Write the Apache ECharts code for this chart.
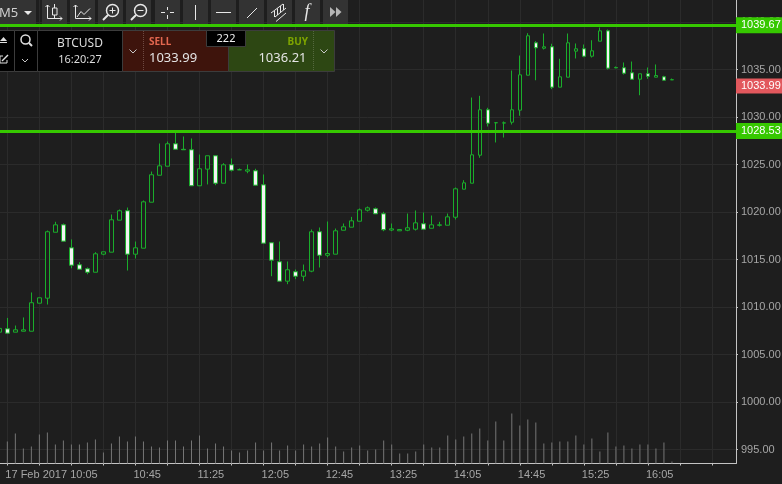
<!DOCTYPE html>
<html>
<head>
<meta charset="utf-8">
<title>BTCUSD M5</title>
<script src="https://cdn.jsdelivr.net/npm/echarts@6/dist/echarts.min.js"></script>
<style>
  html, body { margin: 0; padding: 0; background: #1e1e1e; }
  #chart { width: 782px; height: 484px; }
</style>
</head>
<body>
<div id="chart"></div>
<script>
// open, close, low, high - first candle sits half off the left edge
const candles = [
  [1007.35, 1007.75, 1007.35, 1007.75],
  [1007.7, 1007.25, 1007.25, 1008.85],
  [1007.35, 1007.6, 1007.35, 1008.05],
  [1007.45, 1007.6, 1007.45, 1008.9],
  [1007.45, 1010.45, 1007.45, 1011.53],
  [1010.4, 1010.97, 1010.4, 1010.97],
  [1010.93, 1017.92, 1010.26, 1018.05],
  [1017.87, 1018.65, 1017.87, 1018.97],
  [1018.65, 1016.93, 1016.93, 1018.79],
  [1016.23, 1014.4, 1014.08, 1017.11],
  [1014.44, 1013.98, 1013.98, 1014.72],
  [1014.02, 1013.66, 1013.45, 1014.16],
  [1013.66, 1015.6, 1013.66, 1015.77],
  [1015.56, 1015.81, 1015.45, 1015.81],
  [1015.77, 1019.18, 1015.77, 1019.74],
  [1019.14, 1020.13, 1019.14, 1020.26],
  [1020.13, 1015.56, 1013.84, 1020.47],
  [1015.56, 1016.23, 1015.11, 1016.89],
  [1016.19, 1021.07, 1016.19, 1021.21],
  [1021.03, 1023.92, 1021.03, 1024.26],
  [1023.87, 1024.86, 1023.87, 1027.21],
  [1024.82, 1027.18, 1024.82, 1027.42],
  [1027.18, 1026.61, 1026.61, 1028.4],
  [1026.6, 1026.55, 1026.55, 1027.95],
  [1026.55, 1022.76, 1022.76, 1027.74],
  [1022.76, 1024.55, 1022.76, 1026.05],
  [1024.51, 1025.92, 1022.9, 1025.92],
  [1025.92, 1023.03, 1022.82, 1025.92],
  [1023.03, 1024.97, 1023.03, 1025.14],
  [1024.97, 1024.4, 1024.26, 1025.63],
  [1024.45, 1024.44, 1024.44, 1024.58],
  [1024.3, 1024.44, 1024.08, 1025],
  [1024.34, 1022.82, 1022.82, 1024.55],
  [1022.86, 1016.72, 1016.72, 1023.95],
  [1016.76, 1014.93, 1013.24, 1016.76],
  [1014.76, 1012.72, 1012.72, 1016.89],
  [1012.72, 1013.92, 1012.4, 1014.79],
  [1013.71, 1013.24, 1012.93, 1013.95],
  [1013.24, 1013.81, 1012.72, 1014.47],
  [1013.77, 1017.92, 1013.66, 1018.16],
  [1017.92, 1015.45, 1014.16, 1018.37],
  [1015.45, 1015.63, 1015.24, 1019],
  [1015.56, 1018.02, 1015.56, 1018.26],
  [1018.08, 1018.44, 1018.08, 1018.79],
  [1018.4, 1019.07, 1018.4, 1019.49],
  [1019.03, 1020.23, 1019.03, 1020.37],
  [1020.19, 1020.44, 1020.05, 1020.58],
  [1020.34, 1019.81, 1019.81, 1020.47],
  [1019.81, 1018.13, 1017.98, 1020.02],
  [1018.1, 1018.23, 1017.98, 1018.79],
  [1018.02, 1018.16, 1018.02, 1018.2],
  [1018.08, 1018.34, 1017.98, 1019.84],
  [1018.19, 1018.86, 1018.05, 1020.16],
  [1018.76, 1018.19, 1018.19, 1019.95],
  [1018.29, 1018.65, 1018.29, 1019.63],
  [1018.6, 1018.65, 1018.47, 1018.97],
  [1018.61, 1019.49, 1018.61, 1019.84],
  [1019.45, 1022.44, 1019.21, 1022.58],
  [1022.4, 1023.07, 1022.4, 1023.35],
  [1023.03, 1026.02, 1023.03, 1032.05],
  [1025.98, 1030.76, 1025.71, 1032.23],
  [1030.76, 1029.35, 1029, 1030.97],
  [1029.4, 1029.39, 1027.32, 1029.45],
  [1029.36, 1029.39, 1027.84, 1029.53],
  [1029.45, 1030.76, 1029.21, 1034.89],
  [1030.72, 1034.44, 1030.13, 1036.47],
  [1034.4, 1038.55, 1034.4, 1038.82],
  [1037.81, 1037.28, 1033.87, 1037.98],
  [1037.24, 1037.39, 1037.11, 1038.79],
  [1037.39, 1033.14, 1032.93, 1037.71],
  [1033.14, 1034.23, 1033.14, 1036.13],
  [1034.19, 1037.81, 1034.19, 1038.79],
  [1036.93, 1037.18, 1036.16, 1037.74],
  [1037.18, 1036.4, 1036.29, 1037.63],
  [1036.4, 1036.97, 1036.26, 1038.08],
  [1037.98, 1039.07, 1037.98, 1039.42],
  [1039.07, 1035.14, 1035, 1039.21],
  [1035.2, 1035.18, 1035.13, 1035.32],
  [1035.18, 1034.61, 1034.47, 1035.74],
  [1034.65, 1033.98, 1033.98, 1035.84],
  [1033.98, 1034.55, 1032.29, 1034.55],
  [1034.55, 1034.29, 1034.02, 1035.21],
  [1034.19, 1034.37, 1034.19, 1035.53],
  [1034.23, 1033.87, 1033.87, 1034.34],
  [1033.91, 1033.93, 1033.89, 1034.05],
];
const volumes = ['-',
  22, 30, 15, 17, 29, 31, 19, 23, 19, 19, 21, 24, 11, 20, 27, 22, 27, 22, 17, 16,
  23, 23, 17, 23, 28, 15, 20, 17, 13, 11, 13, 21, 13, 21, 13, 18, 13, 19, 17, 20,
  26, 17, 12, 16, 18, 13, 14, 23, 19, 10, 10, 12, 19, 16, 16, 28, 24, 27, 30, 35,
  23, 42, 23, 50, 38, 44, 41, 20, 21, 22, 22, 28, 19, 25, 12, 31, 17, 18, 15, 19,
  19, 15, 21, 2,
];
const tickLabels = ['17 Feb 2017 10:05', '10:45', '11:25', '12:05', '12:45', '13:25', '14:05', '14:45', '15:25', '16:05'];
const tickSlots = [1, 17, 25, 33, 41, 49, 57, 65, 73, 81];
const categories = Array.from({ length: 93 }, (_, k) => String(k));
const levels = [1039.67, 1028.53];
const lastPrice = 1033.99;
const sellPrice = '1033.99';
const buyPrice = '1036.21';
const spread = '222';

const axisFont = '"Liberation Sans", Arial, sans-serif';
const panelFont = '"Noto Sans", sans-serif';
const green = '#36c800';
const candleGreen = '#1aad2b';
const gridColor = '#2b2b2b';
const axisColor = '#c4c4c4';

// helpers for the toolbar and quote panel
function box(x, y, w, h, fill, stroke) {
  return { type: 'rect', z: 100, shape: { x, y, width: w, height: h }, style: { fill, stroke: stroke || null, lineWidth: 1 } };
}
function txt(x, y, text, size, fill, align, extra) {
  return {
    type: 'text', z: 101,
    style: { x, y, text, fill, font: (extra || '') + ' ' + size + 'px ' + panelFont, textAlign: align || 'left', textVerticalAlign: 'middle' },
  };
}
function seg(points, color, width, dash) {
  return { type: 'polyline', z: 101, shape: { points }, style: { stroke: color || '#e8e8e8', fill: null, lineWidth: width || 1, lineDash: dash } };
}
function tri(points, color) {
  return { type: 'polygon', z: 101, shape: { points }, style: { fill: color || '#e8e8e8' } };
}
function ring(cx, cy, r, color, width) {
  return { type: 'circle', z: 101, shape: { cx, cy, r }, style: { stroke: color || '#e8e8e8', fill: null, lineWidth: width || 1.5 } };
}

function toolbar() {
  const els = [box(-1, -1, 37, 25, '#333333')];
  [42, 70, 98, 126, 155, 183, 211, 239, 267, 295, 323].forEach((x) => {
    els.push(box(x, -1, 25, 25, '#333333'));
  });
  els.push(
    { type: 'text', z: 101, style: { x: -1, y: 13, text: 'M5', fill: '#cfcfcf', font: '13px ' + panelFont, textVerticalAlign: 'middle' } },
    tri([[24, 11], [32, 11], [28, 15]], '#e8e8e8'),
    // candle chart
    seg([[47.5, 5], [47.5, 18.5], [62, 18.5]]),
    seg([[45.5, 7], [47.5, 5], [49.5, 7]]),
    seg([[60, 16.5], [62, 18.5], [60, 20.5]]),
    seg([[54.5, 4], [54.5, 8]]),
    seg([[54.5, 15], [54.5, 18]]),
    box(52.5, 8, 4.5, 7, null, '#e8e8e8'),
    // line chart
    seg([[75.5, 5], [75.5, 18.5], [91, 18.5]]),
    seg([[73.5, 7], [75.5, 5], [77.5, 7]]),
    seg([[89, 16.5], [91, 18.5], [89, 20.5]]),
    seg([[77, 17], [81, 11.5], [84, 14.5], [90, 8.5]]),
    // zoom in
    ring(112.5, 10.5, 6),
    seg([[108, 15], [103, 20]], '#e8e8e8', 2),
    seg([[109.5, 10.5], [115.5, 10.5]]),
    seg([[112.5, 7.5], [112.5, 13.5]]),
    // zoom out
    ring(140.5, 10.5, 6),
    seg([[136, 15], [131, 20]], '#e8e8e8', 2),
    seg([[137.5, 10.5], [143.5, 10.5]]),
    // crosshair
    seg([[161, 12.5], [165, 12.5]]),
    seg([[170, 12.5], [174, 12.5]]),
    seg([[167.5, 7], [167.5, 10]]),
    seg([[167.5, 15], [167.5, 19]]),
    // vertical, horizontal and trend line
    seg([[195.5, 5], [195.5, 20]]),
    seg([[216, 12.5], [231, 12.5]]),
    seg([[247, 18], [257, 8]]),
    // channel
    seg([[271, 13], [283, 4]]),
    seg([[275, 17], [286, 8]]),
    seg([[276, 21.5], [286, 13]]),
    seg([[274.5, 11], [274.5, 17]]),
    seg([[277.5, 8.5], [277.5, 15]]),
    seg([[280.5, 6], [280.5, 12.5]]),
    seg([[283.5, 4], [283.5, 10]]),
    { type: 'text', z: 101, style: { x: 307, y: 12, text: 'f', fill: '#e8e8e8', font: 'italic 18px "Liberation Serif", serif', textAlign: 'center', textVerticalAlign: 'middle' } },
    tri([[330, 7], [335.5, 12], [330, 17]], '#b5b5b5'),
    tri([[336, 7], [341.5, 12], [336, 17]], '#b5b5b5')
  );
  return els;
}

function quotePanel() {
  const border = '#3c3c3c';
  return [
    box(-1, 30.5, 15.5, 41, '#000000', border),
    box(14.5, 30.5, 23, 41, '#000000', border),
    box(37.5, 30.5, 85, 41, '#000000', border),
    box(122.5, 30.5, 106, 41, '#3e140c', border),
    box(228.5, 30.5, 106, 41, '#2d4713', border),
    seg([[143.5, 31], [143.5, 71]], '#6e4a42', 1, [1, 1]),
    seg([[313.5, 31], [313.5, 71]], '#55693f', 1, [1, 1]),
    box(206.5, 30.5, 39, 16, '#000000', border),
    // eject + popout
    tri([[0, 41], [7, 41], [3.5, 37]], '#e0e0e0'),
    seg([[0, 42.5], [7, 42.5]], '#e0e0e0', 1),
    seg([[3, 56], [0, 56], [0, 63], [7, 63], [7, 60]], '#e0e0e0', 1),
    seg([[2, 61], [8, 55]], '#e0e0e0', 1.5),
    // search + chevrons
    ring(25.5, 39.5, 4.5, '#e0e0e0', 1.5),
    seg([[29, 43], [32, 46]], '#e0e0e0', 2),
    seg([[22, 59], [25, 62], [28, 59]], '#c8c8c8'),
    seg([[129.5, 49.5], [133, 53], [136.5, 49.5]], '#c8c8c8'),
    seg([[320.5, 49.5], [324, 53], [327.5, 49.5]], '#c8c8c8'),
    txt(80, 44, 'BTCUSD', 12, '#dcdcdc', 'center'),
    txt(80, 60, '16:20:27', 11, '#dcdcdc', 'center'),
    txt(149, 42.5, 'SELL', 10, '#e2674f', 'left', 'bold'),
    txt(149, 58.5, sellPrice, 13, '#e4e4e4'),
    txt(308, 42.5, 'BUY', 10, '#7ea400', 'right', 'bold'),
    txt(306.5, 58.5, buyPrice, 13, '#e4e4e4', 'right'),
    txt(226, 39, spread, 11, '#f0f0f0', 'center'),
    // last price tag
    box(736, 78.5, 46, 15, '#e2585d'),
    {
      type: 'text', z: 101,
      style: { x: 741, y: 86, text: lastPrice.toFixed(2), fill: '#ffffff', font: '11px ' + axisFont, textVerticalAlign: 'middle' },
    },
  ];
}

let myChart = echarts.init(document.getElementById('chart'), null, { renderer: 'canvas' });
let option = {
  animation: false,
  backgroundColor: '#1e1e1e',
  grid: [
    // price grid runs past the canvas so the ticks land on multiples of 5
    { left: -0.67, width: 736.67, top: -25.5, height: 522.5, outerBoundsMode: 'none' },
    { left: -0.67, width: 736.67, top: 0, height: 463.5, outerBoundsMode: 'none' },
  ],
  xAxis: [
    { type: 'category', gridIndex: 0, data: categories, boundaryGap: false, show: false },
    {
      type: 'category',
      gridIndex: 1,
      data: categories,
      boundaryGap: false,
      axisLine: { lineStyle: { color: axisColor, width: 1 } },
      axisTick: {
        length: 2,
        interval: (idx) => (idx - 1) % 4 === 0,
        lineStyle: { color: axisColor },
      },
      splitLine: {
        show: true,
        interval: (idx) => (idx - 1) % 4 === 0,
        lineStyle: { color: gridColor, width: 1 },
      },
      axisLabel: {
        interval: (idx) => tickSlots.indexOf(idx) >= 0,
        formatter: (v, idx) => tickLabels[tickSlots.indexOf(idx)] || '',
        color: '#a6a6a6',
        fontFamily: axisFont,
        fontSize: 11,
        align: 'left',
        margin: 6,
        padding: [0, 0, 0, -2],
      },
    },
  ],
  yAxis: [
    {
      type: 'value',
      gridIndex: 0,
      position: 'right',
      min: 990,
      max: 1045,
      interval: 5,
      axisLine: { show: false },
      axisTick: { show: true, length: 2, lineStyle: { color: axisColor } },
      splitLine: { show: true, lineStyle: { color: gridColor, width: 1 } },
      axisLabel: {
        color: '#a6a6a6',
        fontFamily: axisFont,
        fontSize: 11,
        margin: 5,
        formatter: (v) => v.toFixed(2),
      },
    },
    {
      type: 'value',
      gridIndex: 1,
      position: 'right',
      min: 0,
      max: 463.5,
      axisLine: { show: true, lineStyle: { color: axisColor, width: 1 } },
      axisTick: { show: false },
      axisLabel: { show: false },
      splitLine: { show: false },
    },
  ],
  series: [
    {
      type: 'bar',
      xAxisIndex: 1,
      yAxisIndex: 1,
      data: volumes,
      barWidth: 1,
      itemStyle: { color: '#767676' },
      silent: true,
    },
    {
      type: 'candlestick',
      xAxisIndex: 0,
      yAxisIndex: 0,
      data: candles,
      barWidth: 4,
      clip: false,
      itemStyle: {
        color: '#1e1e1e',
        color0: '#f2f2f2',
        borderColor: candleGreen,
        borderColor0: candleGreen,
        borderWidth: 1,
      },
      markLine: {
        silent: true,
        symbol: 'none',
        animation: false,
        lineStyle: { color: green, width: 3, type: 'solid' },
        label: {
          position: 'end',
          distance: 0,
          formatter: (p) => p.value.toFixed(2),
          backgroundColor: green,
          color: '#ffffff',
          fontFamily: axisFont,
          fontSize: 11,
          padding: [3, 1, 2, 5],
          width: 40,
        },
        data: levels.map((v) => ({ yAxis: v })),
      },
    },
  ],
  graphic: { elements: toolbar().concat(quotePanel()) },
};
myChart.setOption(option);
</script>
</body>
</html>
